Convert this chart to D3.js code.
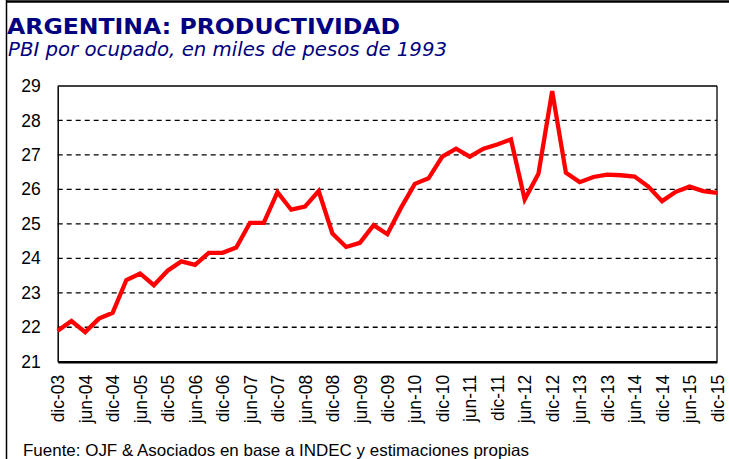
<!DOCTYPE html>
<html>
<head>
<meta charset="utf-8">
<script src="https://cdn.jsdelivr.net/npm/d3@7"></script>
<style>
  body { margin: 0; background: #fff; }
  svg { display: block; }
</style>
</head>
<body>
<svg id="chart" width="729" height="459"></svg>
<script>
// quarters, dic-03 .. dic-15
const quarters = ["dic-03","mar-04","jun-04","sep-04","dic-04","mar-05","jun-05","sep-05","dic-05",
  "mar-06","jun-06","sep-06","dic-06","mar-07","jun-07","sep-07","dic-07","mar-08","jun-08","sep-08",
  "dic-08","mar-09","jun-09","sep-09","dic-09","mar-10","jun-10","sep-10","dic-10","mar-11","jun-11",
  "sep-11","dic-11","mar-12","jun-12","sep-12","dic-12","mar-13","jun-13","sep-13","dic-13","mar-14",
  "jun-14","sep-14","dic-14","mar-15","jun-15","sep-15","dic-15"];

const productividad = [21.90, 22.18, 21.86, 22.25, 22.42, 23.37, 23.56, 23.22, 23.64,
  23.91, 23.81, 24.16, 24.16, 24.31, 25.03, 25.03, 25.92, 25.41, 25.50, 25.95,
  24.72, 24.33, 24.45, 24.96, 24.70, 25.47, 26.16, 26.32, 26.95, 27.18, 26.95,
  27.18, 27.30, 27.45, 25.71, 26.45, 28.85, 26.48, 26.21, 26.36, 26.43, 26.41,
  26.37, 26.08, 25.66, 25.93, 26.08, 25.95, 25.90];

const xTickLabels = ["dic-03","jun-04","dic-04","jun-05","dic-05","jun-06","dic-06","jun-07","dic-07",
  "jun-08","dic-08","jun-09","dic-09","jun-10","dic-10","jun-11","dic-11","jun-12","dic-12","jun-13",
  "dic-13","jun-14","dic-14","jun-15","dic-15"];
const yTicks = [21, 22, 23, 24, 25, 26, 27, 28, 29];

const svg = d3.select("#chart");
const plot = { left: 57.7, right: 717, top: 86, bottom: 361.7 };

const x = d3.scalePoint().domain(quarters).range([plot.left, plot.right]);
const y = d3.scaleLinear().domain([21, 29]).range([plot.bottom, plot.top]);

// outer frame
svg.append("line").attr("x1", 6).attr("x2", 729).attr("y1", 1.5).attr("y2", 1.5)
  .attr("stroke", "#000").attr("stroke-width", 2.5);
svg.append("line").attr("x1", 6.5).attr("x2", 6.5).attr("y1", 0).attr("y2", 459)
  .attr("stroke", "#000").attr("stroke-width", 1.5);

// titles
svg.append("text").attr("x", 7).attr("y", 34)
  .attr("font-family", "'DejaVu Sans', Verdana, sans-serif").attr("font-weight", "bold")
  .attr("font-size", 22).attr("fill", "#000080")
  .attr("textLength", 393).attr("lengthAdjust", "spacingAndGlyphs")
  .text("ARGENTINA: PRODUCTIVIDAD");
svg.append("text").attr("x", 8).attr("y", 56)
  .attr("font-family", "'DejaVu Sans', Verdana, sans-serif").attr("font-style", "italic")
  .attr("font-size", 20).attr("fill", "#000080")
  .attr("textLength", 439).attr("lengthAdjust", "spacingAndGlyphs")
  .text("PBI por ocupado, en miles de pesos de 1993");

// gridlines
svg.append("g").selectAll("line").data(yTicks.filter(d => d > 21 && d < 29)).join("line")
  .attr("x1", plot.left).attr("x2", plot.right)
  .attr("y1", d => y(d)).attr("y2", d => y(d))
  .attr("stroke", "#000").attr("stroke-width", 1.3).attr("stroke-dasharray", "5,4");

// plot frame
svg.append("line").attr("x1", plot.left).attr("x2", plot.right).attr("y1", y(29)).attr("y2", y(29))
  .attr("stroke", "#000").attr("stroke-width", 1.3);
svg.append("line").attr("x1", plot.right).attr("x2", plot.right).attr("y1", plot.top).attr("y2", plot.bottom)
  .attr("stroke", "#000").attr("stroke-width", 1.3);

// y axis
const yAxis = svg.append("g").attr("transform", `translate(${plot.left},0)`)
  .call(d3.axisLeft(y).tickValues(yTicks).tickSize(0).tickPadding(17).tickFormat(d3.format("d")));
yAxis.select(".domain").attr("stroke", "#000").attr("stroke-width", 1.5);
yAxis.selectAll("text").attr("font-family", "Arial, 'Liberation Sans', sans-serif")
  .attr("font-size", 17.5).attr("fill", "#000");

// x axis
const xAxis = svg.append("g").attr("transform", `translate(0,${plot.bottom})`)
  .call(d3.axisBottom(x).tickValues(xTickLabels).tickSize(0).tickSizeOuter(0));
xAxis.select(".domain").attr("stroke", "#000").attr("stroke-width", 2.5);
xAxis.selectAll("text")
  .attr("font-family", "Arial, 'Liberation Sans', sans-serif")
  .attr("font-size", 17.5).attr("fill", "#000")
  .attr("transform", "rotate(-90)")
  .attr("text-anchor", "end")
  .attr("x", -13).attr("y", 0).attr("dy", "0.35em");

// series line
const line = d3.line().x((d, i) => x(quarters[i])).y(d => y(d));
svg.append("path").datum(productividad)
  .attr("d", line)
  .attr("fill", "none").attr("stroke", "#ff0000").attr("stroke-width", 4.3)
  .attr("stroke-linejoin", "miter");

// source
svg.append("text").attr("x", 23).attr("y", 456)
  .attr("font-family", "Arial, 'Liberation Sans', sans-serif")
  .attr("font-size", 16.5).attr("fill", "#000")
  .attr("textLength", 506).attr("lengthAdjust", "spacingAndGlyphs")
  .text("Fuente: OJF & Asociados en base a INDEC y estimaciones propias");
</script>
</body>
</html>
